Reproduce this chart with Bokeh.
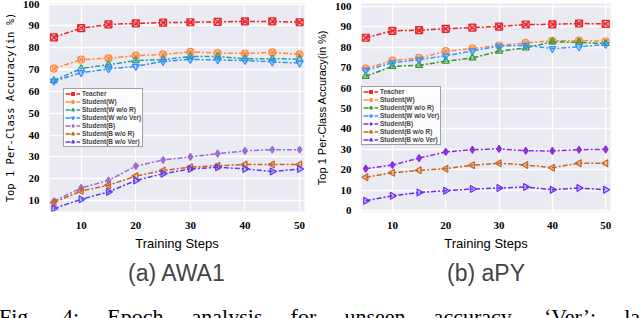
import math
from bokeh.plotting import figure
from bokeh.layouts import column, row
from bokeh.models import Div, Legend, LegendItem, Title, Range1d
from bokeh.embed import file_html
from bokeh.resources import INLINE

steps = [5, 10, 15, 20, 25, 30, 35, 40, 45, 50]
series_names = ["Teacher", "Student(W)", "Student(W w/o R)", "Student(W w/o Ver)",
                "Student(B)", "Student(B w/o R)", "Student(B w/o Ver)"]

awa1_teacher = [84.8, 89.0, 90.7, 91.2, 91.5, 91.7, 91.9, 92.1, 92.1, 91.7]
awa1_w = [70.5, 74.6, 75.2, 76.4, 77.0, 78.1, 77.6, 77.4, 77.9, 77.0]
awa1_w_no_r = [65.0, 70.5, 72.3, 74.1, 74.6, 76.0, 76.0, 75.0, 75.0, 74.8]
awa1_w_no_ver = [64.7, 68.6, 70.3, 71.5, 73.8, 74.7, 74.4, 74.2, 73.5, 73.0]
awa1_b = [9.7, 15.8, 19.2, 25.8, 28.6, 30.0, 31.5, 32.8, 33.3, 33.3]
awa1_b_no_r = [9.1, 14.4, 17.0, 21.2, 23.8, 25.3, 26.0, 26.5, 26.5, 26.5]
awa1_b_no_ver = [6.4, 10.6, 14.0, 19.2, 22.3, 24.5, 25.3, 24.5, 23.3, 24.5]

apy_teacher = [84.7, 88.1, 88.4, 89.1, 89.7, 90.2, 91.2, 91.3, 91.7, 91.5]
apy_w = [69.6, 73.5, 74.8, 78.1, 79.4, 80.9, 82.2, 83.2, 83.3, 83.0]
apy_w_no_r = [65.8, 70.7, 71.2, 73.2, 74.8, 78.1, 79.7, 82.7, 82.4, 81.9]
apy_w_no_ver = [68.8, 72.4, 74.0, 75.8, 78.3, 80.6, 81.0, 79.4, 80.2, 81.4]
apy_b = [20.5, 22.3, 25.7, 28.7, 29.8, 30.2, 29.3, 29.2, 29.8, 30.0]
apy_b_no_r = [16.3, 18.5, 19.7, 20.5, 22.2, 23.2, 22.3, 21.0, 23.2, 23.2]
apy_b_no_ver = [4.8, 7.2, 8.8, 9.7, 10.5, 11.0, 11.5, 10.2, 11.0, 10.2]

awa1_ticks = [10, 20, 30, 40, 50, 60, 70, 80, 90, 100]
apy_ticks = [0, 10, 20, 30, 40, 50, 60, 70, 80, 90, 100]
x_ticks = [10, 20, 30, 40, 50]

awa1_colors = ["#E8262B", "#FF8A3D", "#2A9D8F", "#2F8FFF", "#9B6BD0", "#C8621E", "#5A3CF5"]
apy_colors = ["#E8262B", "#FF8A3D", "#2E9A2E", "#3399FF", "#8A2BE2", "#C8621E", "#6A2BF0"]
markers = ["square_x", "circle_x", "triangle", "inverted_triangle", "diamond_cross", "triangle", "triangle"]
angles = [0, 0, 0, 0, 0, math.pi / 2, -math.pi / 2]


def make_panel(series, colors, y_rng, y_ticks, ylabel, ylabel_font, ylabel_size, subtitle,
               legend_loc, b_left, b_right):
    p = figure(width=312, height=289, output_backend="svg", toolbar_location=None,
               title=None,
               x_range=Range1d(4.2, 50.9), y_range=Range1d(*y_rng),
               min_border_left=b_left, min_border_right=b_right,
               min_border_top=3, min_border_bottom=0)
    p.background_fill_color = "#EAEAF2"
    p.border_fill_color = "white"
    p.outline_line_color = None
    p.xgrid.grid_line_color = "white"
    p.ygrid.grid_line_color = "white"
    p.xgrid.grid_line_width = 1.3
    p.ygrid.grid_line_width = 1.3
    p.xaxis.ticker = x_ticks
    p.yaxis.ticker = y_ticks
    for ax in (p.xaxis[0], p.yaxis[0]):
        ax.axis_line_color = None
        ax.major_tick_line_color = None
        ax.minor_tick_line_color = None
        ax.major_label_text_font = "Liberation Serif"
        ax.major_label_text_font_style = "bold"
        ax.major_label_text_font_size = "11px"
        ax.major_label_text_color = "black"
        ax.axis_label_text_font_style = "normal"
        ax.axis_label_text_color = "black"
    p.xaxis.major_label_standoff = 4
    p.yaxis.major_label_standoff = 4
    p.xaxis.axis_label = "Training Steps"
    p.xaxis.axis_label_text_font = "Liberation Sans"
    p.xaxis.axis_label_text_font_size = "13px"
    p.xaxis.axis_label_standoff = 4
    p.yaxis.axis_label = ylabel
    p.yaxis.axis_label_text_font = ylabel_font
    p.yaxis.axis_label_text_font_size = ylabel_size
    p.yaxis.axis_label_standoff = 4

    items = []
    for name, vals, c, m, a in zip(series_names, series, colors, markers, angles):
        lr = p.line(steps, vals, line_color=c, line_width=1.5, line_dash="5 2 2 2")
        sr = p.scatter(steps, vals, marker=m, size=7, angle=a, line_color=c,
                       line_width=1.2, fill_color=c, fill_alpha=0.3)
        items.append(LegendItem(label=name, renderers=[lr, sr]))
    leg = Legend(items=items, location=legend_loc)
    leg.label_text_font = "Liberation Sans"
    leg.label_text_font_style = "bold"
    leg.label_text_font_size = "6.5px"
    leg.label_height = 7
    leg.label_standoff = 2
    leg.glyph_height = 7
    leg.glyph_width = 15
    leg.spacing = 1
    leg.padding = 1
    leg.margin = 0
    leg.border_line_color = "#444444"
    leg.border_line_width = 1
    leg.background_fill_color = "white"
    leg.background_fill_alpha = 0.85
    p.add_layout(leg)

    t = Title(text=subtitle, align="center", text_font="Liberation Sans",
              text_font_size="23px", text_font_style="normal", standoff=8)
    p.add_layout(t, "below")
    return p


p1 = make_panel([awa1_teacher, awa1_w, awa1_w_no_r, awa1_w_no_ver, awa1_b, awa1_b_no_r, awa1_b_no_ver],
                awa1_colors, (5, 100.3), awa1_ticks, "Top 1 Per-Class Accuracy(in %)",
                "DejaVu Sans Mono", "10.5px", "(a) AWA1", (14, 64), 47, 8)
p2 = make_panel([apy_teacher, apy_w, apy_w_no_r, apy_w_no_ver, apy_b, apy_b_no_r, apy_b_no_ver],
                apy_colors, (-0.5, 101.5), apy_ticks, "Top 1 Per-Class Accuracy(in %)",
                "Liberation Sans", "11px", "(b) aPY", (0, 66), 46, 14)

caption = Div(text=('<div style="width:668px; margin-left:-6px; text-align:justify; '
                    'text-align-last:justify; font-family:\'Liberation Serif\'; font-size:22px; '
                    'line-height:22px; padding-top:12px; color:black;">'
                    'Fig. 4: Epoch analysis for unseen accuracy. \u2018Ver\u2019: label</div>'),
              width=624, height=13, styles={"overflow": "visible"})

layout = column(row(p1, p2, spacing=0), caption, spacing=0)
open("out.html", "w").write(file_html(layout, INLINE))
